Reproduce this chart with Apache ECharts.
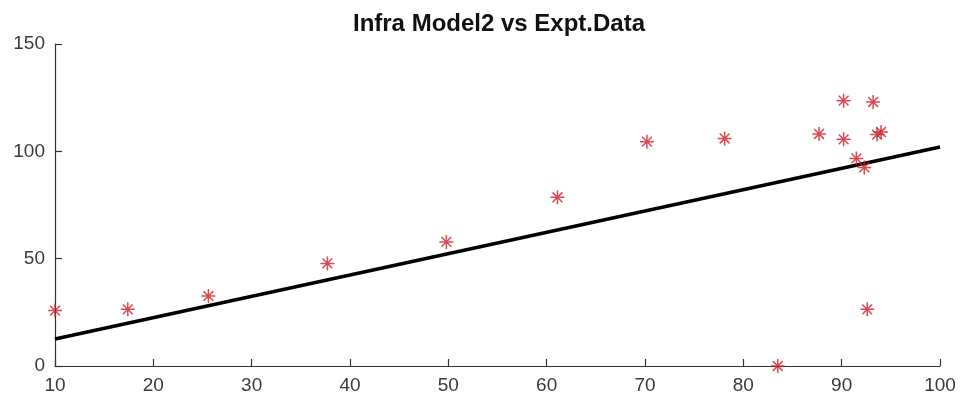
<!DOCTYPE html>
<html><head><meta charset="utf-8">
<script src="https://cdn.jsdelivr.net/npm/echarts@6/dist/echarts.min.js"></script>
<style>html,body{margin:0;padding:0;background:#fff}#c{width:964px;height:408px}</style>
</head><body><div id="c"></div>
<script>
var titleText = 'Infra Model2 vs Expt.Data';
var exptX = [10.0, 17.4, 25.6, 37.7, 49.8, 61.1, 70.2, 78.1, 83.5, 87.7, 90.2, 90.2, 91.5, 92.3, 92.6, 93.2, 93.6, 94.0];
var exptY = [25.8, 26.4, 32.6, 47.8, 57.8, 78.6, 104.5, 106.0, 0.0, 108.1, 123.6, 105.6, 96.7, 92.5, 26.4, 123.0, 107.8, 109.0];
var fitX = [10, 100];
var fitY = [12.6, 102.0];
var xTicks = [10, 20, 30, 40, 50, 60, 70, 80, 90, 100];
var yTicks = [0, 50, 100, 150];

var chart = echarts.init(document.getElementById('c'));
var star = 'path://M0,5L10,5M5,0L5,10M1.5,1.5L8.5,8.5M8.5,1.5L1.5,8.5';
var font = 'Liberation Sans, Arial, Helvetica, sans-serif';
chart.setOption({
  animation: false,
  title: {text: titleText, left: 494, top: 7, textAlign: 'center',
    textStyle: {fontFamily: font, fontWeight: 'bold', fontSize: 24, color: '#111'}},
  grid: {left: 55, right: 24, top: 44, bottom: 42},
  xAxis: {type: 'value', min: xTicks[0], max: xTicks[xTicks.length-1], interval: 10,
    axisLine: {lineStyle: {color: '#333', width: 1.2}},
    axisTick: {inside: true, length: 7, lineStyle: {color: '#333', width: 1.2}},
    axisLabel: {color: '#3a3a3a', fontSize: 19, fontFamily: font, margin: 10},
    splitLine: {show: false}},
  yAxis: {type: 'value', min: yTicks[0], max: yTicks[yTicks.length-1], interval: 50,
    axisLine: {show: true, lineStyle: {color: '#333', width: 1.2}},
    axisTick: {show: true, inside: true, length: 7, lineStyle: {color: '#333', width: 1.2}},
    axisLabel: {color: '#3a3a3a', fontSize: 19, fontFamily: font, margin: 10},
    splitLine: {show: false}},
  series: [
    {type: 'line', data: fitX.map(function(x,i){return [x, fitY[i]];}), showSymbol: false,
      lineStyle: {color: '#000', width: 3.5}, z: 2},
    {type: 'scatter', data: exptX.map(function(x,i){return [x, exptY[i]];}),
      symbol: star, symbolSize: 14, clip: false,
      itemStyle: {color: 'none', borderColor: '#d21e2b', borderWidth: 1.5}, z: 3}
  ]
});
</script></body></html>
